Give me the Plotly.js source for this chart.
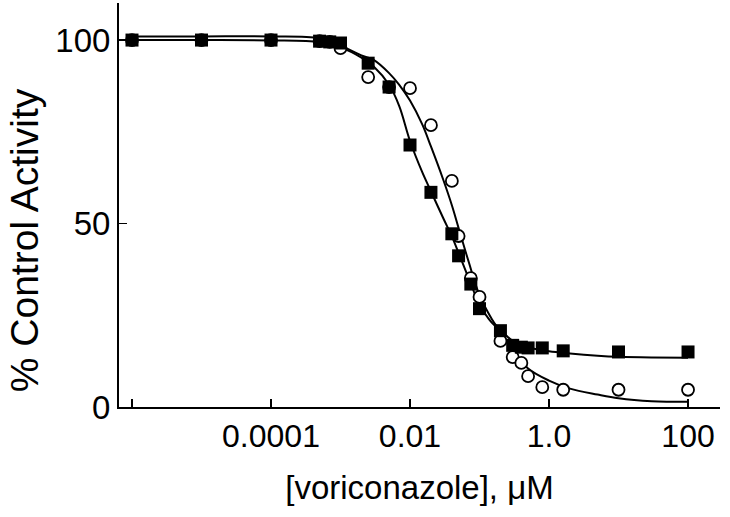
<!DOCTYPE html>
<html>
<head>
<meta charset="utf-8">
<script src="https://cdn.plot.ly/plotly-3.0.1.min.js"></script>
<style>body{margin:0;background:#fff}#chart{width:730px;height:517px}</style>
</head>
<body>
<div id="chart"></div>
<script>
const sqX = [1e-6, 1e-5, 1e-4, 5e-4, 7e-4, 1e-3, 2.5e-3, 5e-3, 0.01, 0.02, 0.04, 0.05, 0.075, 0.1, 0.2, 0.3, 0.4, 0.5, 0.8, 1.6, 10, 100];
const sqY = [100, 100, 100, 99.7, 99.5, 99.2, 93.7, 87.2, 71.4, 58.5, 47.2, 41.2, 33.5, 26.8, 20.8, 16.8, 16.3, 16.1, 16.1, 15.3, 15.0, 15.0];
const ciX = [1e-6, 1e-5, 1e-4, 5e-4, 7e-4, 1e-3, 2.5e-3, 5e-3, 0.01, 0.02, 0.04, 0.05, 0.075, 0.1, 0.2, 0.3, 0.4, 0.5, 0.8, 1.6, 10, 100];
const ciY = [100, 100, 100, 99.7, 99.5, 97.8, 89.9, 87.2, 86.9, 76.8, 61.6, 46.6, 35.1, 30.0, 18.0, 13.6, 12.0, 8.4, 5.4, 4.7, 4.7, 4.7];

// fitted curves
const fitX = [1e-6, 1e-5, 1e-4, 5e-4, 1e-3, 2e-3, 3e-3, 5e-3, 7e-3, 0.01, 0.015, 0.02, 0.03, 0.04, 0.05, 0.07, 0.1, 0.15, 0.2, 0.3, 0.5, 1, 2, 5, 10, 30, 100];
const sqFit = [100, 100, 99.9, 99.4, 98.0, 95.2, 92.8, 87.8, 82.0, 72.5, 64.0, 58.8, 51.5, 46.5, 42.0, 35.0, 28.0, 23.0, 21.0, 18.0, 16.3, 15.2, 14.6, 14.0, 13.7, 13.5, 13.4];
const ciFit = [101, 101, 101, 100.5, 98.5, 95.8, 94.6, 91.0, 87.8, 83.5, 77.0, 71.0, 62.0, 55.0, 48.8, 39.5, 30.5, 24.0, 20.5, 15.5, 10.5, 7.2, 5.0, 3.4, 2.4, 1.6, 1.4];

const xTicks = [1e-6, 1e-4, 1e-2, 1, 100];
const xTickText = ['', '0.0001', '0.01', '1.0', '100'];
const yTicks = [0, 50, 100];

const font = 'Arial, "Liberation Sans", sans-serif';

const traces = [
  {x: fitX, y: ciFit, type: 'scatter', mode: 'lines', line: {color: 'black', width: 2, shape: 'spline'}, hoverinfo: 'skip'},
  {x: fitX, y: sqFit, type: 'scatter', mode: 'lines', line: {color: 'black', width: 2, shape: 'spline'}, hoverinfo: 'skip'},
  {x: ciX, y: ciY, type: 'scatter', mode: 'markers', marker: {symbol: 'circle', size: 12, color: 'white', line: {color: 'black', width: 1.8}}},
  {x: sqX, y: sqY, type: 'scatter', mode: 'markers', marker: {symbol: 'square', size: 13, color: 'black', line: {width: 0}}}
];

const layout = {
  width: 730, height: 517,
  margin: {l: 119, r: 10, t: 3, b: 110},
  paper_bgcolor: 'white', plot_bgcolor: 'white',
  showlegend: false,
  font: {family: font, color: 'black'},
  xaxis: {
    type: 'log', range: [-6.187, 2.46],
    tickvals: xTicks, ticktext: xTickText,
    ticks: 'inside', ticklen: 8, tickwidth: 1.5, tickcolor: 'black',
    showline: true, linecolor: 'black', linewidth: 2,
    showgrid: false, zeroline: false,
    tickfont: {size: 32, family: font},
    title: {text: '[voriconazole], μM', font: {size: 33, family: font}, standoff: 22}
  },
  yaxis: {
    range: [0, 110.1],
    tickvals: yTicks,
    ticks: 'inside', ticklen: 8, tickwidth: 1.5, tickcolor: 'black',
    showline: true, linecolor: 'black', linewidth: 2,
    showgrid: false, zeroline: false,
    tickfont: {size: 33, family: font}
  },
  annotations: [{
    text: '% Control Activity', textangle: -90,
    xref: 'paper', yref: 'paper', x: -0.158, y: 0.413,
    xanchor: 'center', yanchor: 'middle', showarrow: false,
    font: {size: 39, family: font}
  }]
};

Plotly.newPlot('chart', traces, layout, {staticPlot: true});
</script>
</body>
</html>
